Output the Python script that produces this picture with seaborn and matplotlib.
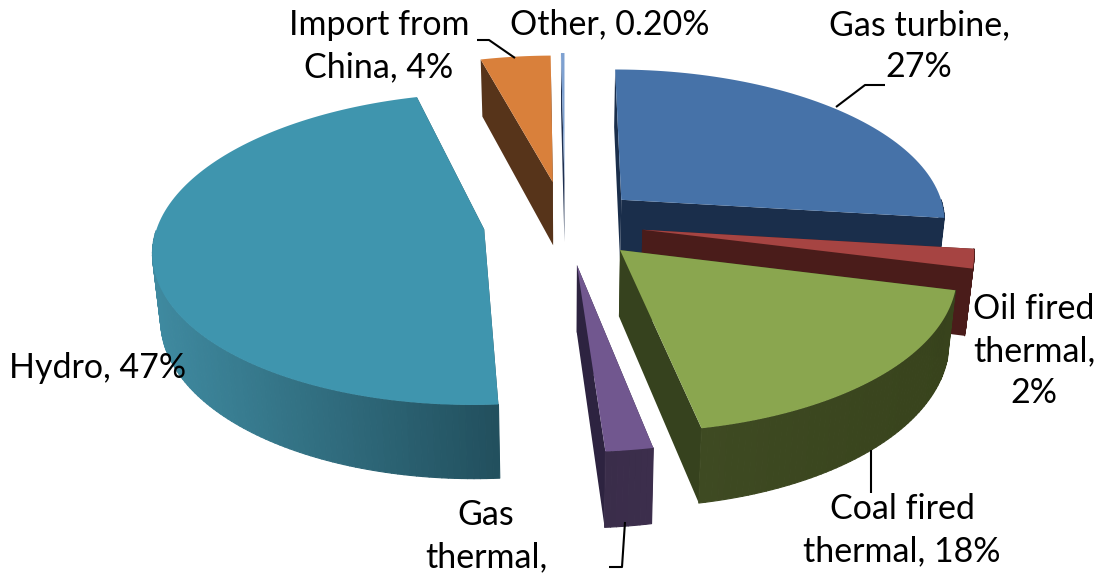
import numpy as np
import matplotlib
matplotlib.use("Agg")
import matplotlib.pyplot as plt
from matplotlib.collections import PolyCollection
from matplotlib.colors import to_rgb
from matplotlib.path import Path
from matplotlib.transforms import Affine2D, Transform
import seaborn as sns

# Electricity generation mix, percent of total
sources = ["Gas turbine", "Oil fired thermal", "Coal fired thermal", "Gas thermal",
           "Hydro", "Import from China", "Other"]
shares = [27, 2, 18, 2, 47, 4, 0.20]
explode = [0.235, 0.24, 0.24, 0.27, 0.25, 0.28, 0.30]

top_colors = ["#4672a8", "#a64442", "#8aa64f", "#71578f", "#3f95ae", "#d9803b", "#7ea1d1"]
cut_colors = ["#1a2e4b", "#4a1c1a", "#36421e", "#2d2340", "#22505e", "#57341a", "#1f3050"]
rim_left = ["#1a2e4b", "#4a1c1a", "#3e4a22", "#3a2d4a", "#3f8aa0", "#57341a", "#1f3050"]
rim_right = ["#1a2e4b", "#4a1c1a", "#38431c", "#3c2e4c", "#22505e", "#57341a", "#1f3050"]

label_text = ["Gas turbine,\n27%", "Oil fired\nthermal,\n2%", "Coal fired\nthermal, 18%",
              "Gas\nthermal,", "Hydro, 47%", "Import from\nChina, 4%", "Other, 0.20%"]
label_xy = [(919, 46), (1034, 351), (902, 530), (486, 536), (98, 368), (379, 46), (610, 24)]
leaders = [
    [(885, 85), (865, 85), (836, 107)],
    [],
    [(871, 450), (871, 493)],
    [(609, 567), (622, 567), (625, 522)],
    [],
    [(477, 40), (489, 40), (515, 58)],
    [],
]

# Order in which the slices are stacked, rear to front
draw_order = [5, 6, 0, 1, 3, 4, 2]

# Camera used for the tilted disc
CX, CY = 565.0, 223.0
RX, RY = 326.0, 152.0
PERSP = 0.125
DEPTH = 65.0


def project(x, y, z=0.0):
    """Map disc coordinates and a height fraction (0 top, 1 bottom) to canvas pixels."""
    s = 1.0 / (1.0 + PERSP * y)
    squeeze = 1.0 - 0.02 * z
    return CX + RX * x * s * squeeze, CY - RY * y * s + DEPTH * z * s ** 0.9


class DiscProjection(Transform):
    input_dims = 2
    output_dims = 2

    def transform_non_affine(self, values):
        px, py = project(values[:, 0], values[:, 1])
        return np.column_stack([px, py])

    def transform_path_non_affine(self, path):
        # Flatten the arcs first so the curved edge stays true under perspective
        scale = 2000.0
        flat = Affine2D().scale(scale).transform_path(path).to_polygons(closed_only=False)[0]
        return Path(self.transform_non_affine(flat / scale))


sns.set_theme(style="white")
plt.rcParams["font.family"] = ["Lato", "DejaVu Sans"]
palette = sns.color_palette(top_colors)

fig = plt.figure(figsize=(11.01, 5.77), dpi=100)
ax = fig.add_axes([0, 0, 1, 1])

wedges, _ = ax.pie(shares, explode=explode, colors=palette, startangle=90,
                   counterclock=False, radius=1.0, normalize=True,
                   wedgeprops={"linewidth": 0})

disc = DiscProjection() + ax.transData

for rank, idx in enumerate(draw_order):
    w = wedges[idx]
    cx, cy = w.center
    t1, t2 = np.radians(w.theta1), np.radians(w.theta2)
    base = 10 + 3 * rank

    # Flat cut faces running from the apex out to the rim
    for t in (t1, t2):
        ex, ey = cx + np.cos(t), cy + np.sin(t)
        quad = [project(cx, cy, 0), project(ex, ey, 0), project(ex, ey, 1), project(cx, cy, 1)]
        ax.fill(*zip(*quad), color=cut_colors[idx], lw=0, zorder=base)

    # Outer rim, shaded across its width; only the part turned towards the viewer is drawn
    n = max(8, int(np.degrees(t2 - t1)))
    ts = np.linspace(t1, t2, n + 1)
    xs, ys = cx + np.cos(ts), cy + np.sin(ts)
    tx, ty = project(xs, ys, 0.0)
    bx, by = project(xs, ys, 1.0)
    facing = [i for i in range(n) if np.sin(0.5 * (ts[i] + ts[i + 1])) < 0.0]
    if facing:
        polys = [[(tx[i], ty[i]), (tx[i + 1], ty[i + 1]), (bx[i + 1], by[i + 1]), (bx[i], by[i])]
                 for i in facing]
        span = max(tx[facing].max() - tx[facing].min(), 1.0)
        left, right = np.array(to_rgb(rim_left[idx])), np.array(to_rgb(rim_right[idx]))
        shades = [tuple(left + (right - left) * (tx[i] - tx[facing].min()) / span) for i in facing]
        ax.add_collection(PolyCollection(polys, facecolors=shades, edgecolors=shades,
                                         linewidths=0.8, zorder=base + 1))

    # Top face
    w.set_transform(disc)
    w.set_zorder(base + 2)

for text, (x, y) in zip(label_text, label_xy):
    ax.text(x, y, text, ha="center", va="center", fontsize=24.5, color="black",
            linespacing=1.38, zorder=60)

for path in leaders:
    if path:
        ax.plot(*zip(*path), color="black", lw=1.5, zorder=50, solid_capstyle="butt")

ax.set_aspect("auto")
ax.set_xlim(0, 1101)
ax.set_ylim(577, 0)
ax.axis("off")
fig.savefig("out.png", dpi=100, facecolor="white")
